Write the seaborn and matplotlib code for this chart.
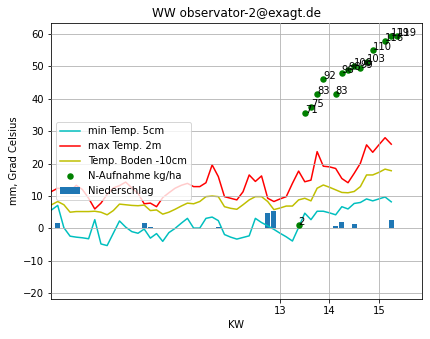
import numpy as np
import matplotlib
matplotlib.use("Agg")
import matplotlib.pyplot as plt
import seaborn as sns

# ---- data ----
days = list(range(56))
t_min_5cm = [5.7, 7.1, 0.2, -2.4, -2.7, -2.9, -3.2, 2.7, -4.8, -5.3,
             -1.5, 2.3, 0.4, -1.0, -1.5, -0.2, -3.0, -1.6, -4.0, -1.3,
             0.0, 1.6, 3.1, 0.1, 0.1, 3.1, 3.5, 2.4, -1.9, -2.7,
             -3.3, -2.8, -2.3, 3.1, 1.8, 0.8, -0.3, -1.5, -2.6, -3.9,
             0.3, 4.7, 2.7, 5.3, 5.3, 4.8, 4.2, 6.7, 6.0, 7.7,
             8.0, 9.1, 8.5, 9.1, 9.7, 8.2]
t_max_2m = [11.4, 12.4, 12.2, 11.5, 13.3, 12.0, 9.3, 6.0, 7.8, 10.5,
            12.5, 13.2, 14.3, 12.5, 10.8, 7.6, 7.8, 6.7, 9.5, 11.0,
            12.4, 13.3, 13.9, 12.9, 12.9, 14.1, 19.6, 16.0, 9.8, 9.3,
            8.8, 11.3, 16.5, 14.5, 16.2, 9.3, 8.3, 9.1, 9.8, 13.9,
            17.7, 14.4, 14.9, 23.7, 19.2, 19.0, 18.5, 15.4, 14.1, 17.0,
            20.1, 25.8, 23.5, 25.8, 28.0, 26.0]
t_soil_10cm = [7.3, 8.3, 7.3, 5.0, 5.2, 5.2, 5.2, 5.3, 5.0, 4.2,
               5.5, 7.5, 7.3, 7.1, 7.0, 7.2, 5.5, 5.7, 4.4, 5.0,
               5.9, 6.9, 7.8, 7.6, 8.3, 9.8, 10.0, 9.8, 6.7, 6.2,
               5.9, 7.3, 8.8, 9.8, 9.8, 8.3, 5.8, 6.3, 6.9, 6.9,
               8.8, 9.3, 8.5, 12.4, 13.4, 12.7, 11.9, 11.1, 11.0, 11.4,
               12.9, 16.5, 16.5, 17.3, 18.3, 17.8]
rain_mm = [0, 1.8, 0, 0, 0, 0, 0, 0, 0, 0,
           0, 0, 0, 0, 0, 1.8, 0.3, 0, 0, 0,
           0, 0, 0, 0, 0, 0, 0.2, 0.5, 0, 0,
           0, 0, 0, 0, 0, 4.6, 5.3, 0, 0, 0,
           0, 0, 0, 0, 0, 0, 0.7, 2.0, 0, 1.3,
           0, 0, 0, 0, 0, 2.5]
n_days = [40, 41, 42, 43, 44, 46, 47, 48, 49, 50, 51, 52, 54, 55, 56]
n_uptake = [2, 71, 75, 83, 92, 83, 96, 98, 100, 99, 103, 110, 116, 119, 119]
kw_positions = [37, 45, 53]
kw_labels = ["13", "14", "15"]

# ---- figure ----
fig = plt.figure(figsize=(430 / 72, 339 / 72), dpi=72)
ax = fig.add_subplot(111)
fig.subplots_adjust(left=0.118, right=0.981, top=0.933, bottom=0.117)

sns.barplot(x=days, y=rain_mm, native_scale=True, color="#1f77b4",
            saturation=1, width=0.8, errorbar=None, label="Niederschlag", ax=ax)
sns.lineplot(x=days, y=t_min_5cm, color="c", linewidth=1.5,
             label="min Temp. 5cm", ax=ax)
sns.lineplot(x=days, y=t_max_2m, color="r", linewidth=1.5,
             label="max Temp. 2m", ax=ax)
sns.lineplot(x=days, y=t_soil_10cm, color="y", linewidth=1.5,
             label="Temp. Boden -10cm", ax=ax)
n_y = [v / 2 for v in n_uptake]
sns.scatterplot(x=n_days, y=n_y, color="g", s=42, linewidth=0,
                label="N-Aufnahme kg/ha", ax=ax, zorder=3)
for xd, yv, nv in zip(n_days, n_y, n_uptake):
    ax.text(xd, yv, str(nv), fontsize=10, zorder=4)

ax.set_xlim(-0.13, 59.95)
ax.set_ylim(-21.9, 63.5)
ax.set_yticks([-20, -10, 0, 10, 20, 30, 40, 50, 60])
ax.set_xticks(kw_positions)
ax.set_xticklabels(kw_labels)
ax.grid(True)
ax.set_axisbelow(False)
ax.set_title("WW observator-2@exagt.de", fontsize=12)
ax.set_xlabel("KW", fontsize=10)
ax.set_ylabel("mm, Grad Celsius", fontsize=10)

order = ["min Temp. 5cm", "max Temp. 2m", "Temp. Boden -10cm",
         "N-Aufnahme kg/ha", "Niederschlag"]
h, l = ax.get_legend_handles_labels()
hl = dict(zip(l, h))
ax.legend([hl[k] for k in order], order, loc="center left", fontsize=10)

fig.savefig("out.png", dpi=72)
